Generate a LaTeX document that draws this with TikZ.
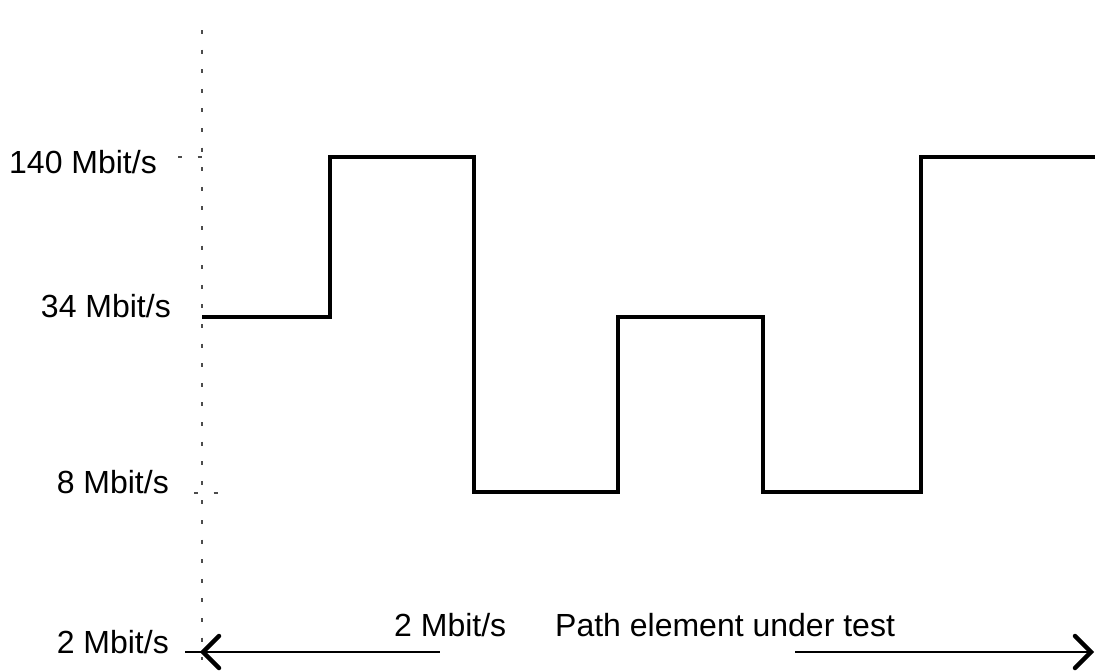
\documentclass[tikz,border=0pt]{standalone}
\usepackage{fontspec}
\setmainfont{Liberation Sans}
\usetikzlibrary{arrows.meta,positioning}

\begin{document}
\begin{tikzpicture}[x=1pt,y=-1pt]

\tikzset{rate/.style = {font=\fontsize{32}{38}\selectfont, inner sep=0pt}}
\tikzset{wave/.style = {line width=3.5pt, line join=miter}}
\tikzset{axisline/.style = {black!70, line width=1.2pt, dash pattern=on 4pt off 15.6pt}}
\tikzset{barb/.style = {line width=4.5pt, line cap=round, line join=miter}}

\useasboundingbox (0,0) rectangle (1095,670);

%axis
\coordinate (top) at (202,30);
\coordinate (bot) at (202,660);
\draw[axisline] (top) -- (bot);
\draw[axisline] (178,157) -- (208,157);
\draw[axisline] (194,493) -- (220,493);

%rates
\node[rate, anchor=base east] (r140) at (157,173) {140 Mbit/s};
\node[rate, anchor=base east] (r34) at (171,317) {34 Mbit/s};
\node[rate, anchor=base east] (r8) at (169,493) {8 Mbit/s};
\node[rate, anchor=base east] (r2) at (169,653) {2 Mbit/s};
\node[rate, anchor=base west] (bw) at (394,636) {2 Mbit/s};
\node[rate, anchor=base west] (pe) at (555,636) {Path element under test};

%waveform
\draw[wave] (202,317) -| (330,157) -| (474,492) -| (618,317) -| (763,492) -| (921,157) -- (1095,157);

%span
\coordinate (tl) at (185,652);
\coordinate (lend) at (203,652);
\coordinate (la) at (440,652);
\coordinate (ra) at (795,652);
\coordinate (rend) at (1091,652);
\draw[line width=2.2pt] (tl) -- (la);
\draw[line width=1.3pt] (ra) -- (rend);
\draw[barb] (lend) ++(16,-16) -- (lend) -- ++(16,16);
\draw[barb] (rend) ++(-16,-16) -- (rend) -- ++(-16,16);

\end{tikzpicture}
\end{document}
